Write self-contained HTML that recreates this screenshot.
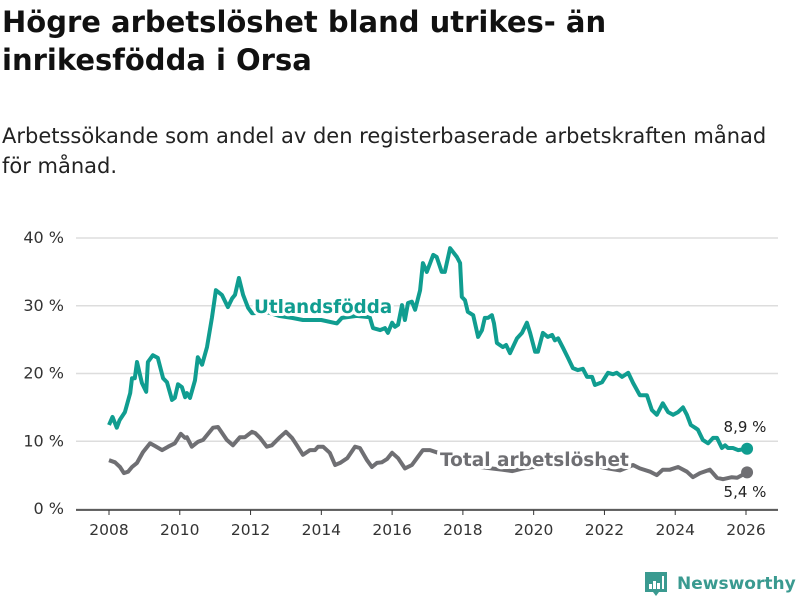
<!DOCTYPE html>
<html><head><meta charset="utf-8">
<style>
body{margin:0;background:#fff;width:800px;height:600px;overflow:hidden;font-family:"DejaVu Sans","Liberation Sans",sans-serif;}
#title{position:absolute;left:2px;top:3px;font-size:29px;font-weight:bold;line-height:38px;color:#111;margin:0;}
#sub{position:absolute;left:2px;top:121px;font-size:21px;line-height:30px;color:#222;}
svg{position:absolute;left:0;top:0;}
</style></head><body>
<h1 id="title">Högre arbetslöshet bland utrikes- än<br>inrikesfödda i Orsa</h1>
<div id="sub">Arbetssökande som andel av den registerbaserade arbetskraften månad<br>för månad.</div>
<svg id="chart" width="800" height="600"></svg>
<script>
const yTicks=[0,10,20,30,40];
const xTicks=[2008,2010,2012,2014,2016,2018,2020,2022,2024,2026];
const utlYears=[2008.0,2008.1,2008.22,2008.3,2008.45,2008.6,2008.65,2008.73,2008.79,2008.93,2009.05,2009.1,2009.24,2009.38,2009.53,2009.64,2009.78,2009.86,2009.95,2010.06,2010.15,2010.2,2010.29,2010.43,2010.51,2010.63,2010.77,2010.91,2011.02,2011.19,2011.36,2011.48,2011.56,2011.67,2011.79,2011.93,2012.04,2012.5,2012.8,2013.17,2013.48,2014.0,2014.44,2014.58,2015.0,2015.37,2015.46,2015.66,2015.8,2015.88,2016.0,2016.08,2016.17,2016.28,2016.36,2016.45,2016.56,2016.65,2016.79,2016.87,2016.98,2017.16,2017.26,2017.4,2017.49,2017.64,2017.83,2017.92,2017.97,2018.06,2018.14,2018.29,2018.43,2018.54,2018.62,2018.71,2018.82,2018.88,2018.96,2019.13,2019.22,2019.33,2019.53,2019.67,2019.81,2019.9,2020.04,2020.12,2020.26,2020.4,2020.52,2020.6,2020.69,2020.83,2020.97,2021.11,2021.25,2021.39,2021.51,2021.65,2021.73,2021.93,2022.1,2022.24,2022.35,2022.5,2022.67,2022.81,2023.0,2023.2,2023.34,2023.48,2023.65,2023.8,2023.94,2024.08,2024.22,2024.33,2024.44,2024.56,2024.64,2024.78,2024.93,2025.07,2025.18,2025.32,2025.41,2025.49,2025.63,2025.78,2026.03];
const utlValues=[12.4,13.6,12,13.1,14.3,17.1,19.3,19.3,21.7,18.6,17.3,21.7,22.7,22.3,19.3,18.7,16.1,16.4,18.4,18,16.5,17.1,16.4,19,22.4,21.3,23.9,28.3,32.3,31.6,29.8,31.1,31.6,34.1,31.6,29.7,28.9,29,28.5,28.2,27.9,27.9,27.4,28.2,28.5,28.3,26.7,26.4,26.7,26,27.5,26.9,27.2,30.1,27.9,30.4,30.6,29.4,32.3,36.3,35,37.5,37.2,35,35,38.5,37.2,36.3,31.3,30.8,29.1,28.6,25.4,26.4,28.2,28.2,28.6,27.4,24.5,23.9,24.2,23,25.2,26,27.5,26,23.2,23.2,26,25.4,25.7,24.9,25.2,23.8,22.3,20.8,20.5,20.7,19.5,19.5,18.3,18.7,20.1,19.9,20.1,19.5,20.1,18.6,16.8,16.8,14.6,13.9,15.6,14.3,13.9,14.3,15,13.9,12.4,12,11.7,10.2,9.7,10.5,10.5,9,9.4,9,9,8.7,8.9];
const totYears=[2008.0,2008.17,2008.31,2008.42,2008.54,2008.65,2008.79,2008.96,2009.16,2009.3,2009.5,2009.67,2009.86,2010.03,2010.15,2010.2,2010.34,2010.51,2010.66,2010.94,2011.08,2011.33,2011.5,2011.7,2011.84,2012.04,2012.13,2012.27,2012.46,2012.6,2012.83,2013.0,2013.17,2013.31,2013.48,2013.68,2013.82,2013.91,2014.05,2014.24,2014.39,2014.53,2014.73,2014.95,2015.09,2015.29,2015.43,2015.57,2015.71,2015.86,2016.0,2016.17,2016.36,2016.56,2016.73,2016.87,2017.07,2017.3,2017.6,2017.9,2018.2,2018.5,2018.8,2019.1,2019.4,2019.7,2020.0,2020.3,2020.6,2020.9,2021.2,2021.5,2021.8,2022.1,2022.44,2022.81,2023.0,2023.29,2023.48,2023.65,2023.85,2024.08,2024.33,2024.5,2024.7,2024.98,2025.18,2025.35,2025.6,2025.75,2026.03];
const totValues=[7.2,6.9,6.2,5.3,5.5,6.2,6.8,8.4,9.7,9.3,8.7,9.2,9.7,11.1,10.5,10.6,9.2,9.9,10.2,12,12.1,10.2,9.4,10.6,10.6,11.4,11.2,10.5,9.2,9.4,10.6,11.4,10.5,9.4,8,8.7,8.7,9.2,9.2,8.3,6.5,6.8,7.5,9.2,9,7.2,6.2,6.8,6.9,7.4,8.3,7.5,6,6.5,7.7,8.7,8.7,8.3,7.5,7,6.5,6.2,6,5.8,5.6,6,6.2,7.5,8,7.5,7.2,6.8,6.3,6,5.7,6.5,6,5.5,5,5.8,5.8,6.2,5.5,4.7,5.3,5.8,4.6,4.4,4.7,4.6,5.4];

const NS='http://www.w3.org/2000/svg';
const svg=document.getElementById('chart');
const X=y=>109+(y-2008)*(746-109)/18;
const Y=v=>509-v*(509-238)/40;
function mk(t,a,p){const e=document.createElementNS(NS,t);for(const k in a)e.setAttribute(k,a[k]);(p||svg).appendChild(e);return e;}
const TEAL='#109d90',GRAY='#6f6f73';
yTicks.forEach(v=>{
  const l=mk('line',{x1:76,x2:778,y1:Y(v),y2:Y(v),stroke:'#dddddd','stroke-width':1.5});
  
  
  const t=mk('text',{x:64,y:Y(v)+5,'text-anchor':'end','font-size':16,fill:'#333'});
  t.textContent=v+' %';
  
  
});
const ax=mk('line',{x1:76,x2:778,y1:510,y2:510,stroke:'#333','stroke-width':1.5});


xTicks.forEach(y=>{
  const tk=mk('line',{x1:X(y),x2:X(y),y1:510,y2:515,stroke:'#333','stroke-width':1});
  
  
  const t=mk('text',{x:X(y),y:535,'text-anchor':'middle','font-size':15.5,fill:'#333'});
  t.textContent=y;
  
  
});
function series(ys,vs,col,name){
  const d=ys.map((y,i)=>(i?'L':'M')+X(y).toFixed(1)+','+Y(vs[i]).toFixed(1)).join('');
  const p=mk('path',{d:d,fill:'none',stroke:col,'stroke-width':4,'stroke-linejoin':'round'});
  
  
  const n=ys.length-1;
  const c=mk('circle',{cx:X(ys[n]),cy:Y(vs[n]),r:6,fill:col});
  
  
}
series(totYears,totValues,GRAY,'total');
series(utlYears,utlValues,TEAL,'utlandsfodda');
function label(txt,x,y,col,size,bold,name,anchor){
  const t=mk('text',{x:x,y:y,'font-size':size,'font-weight':bold?'bold':'normal',fill:col,stroke:'#fff','stroke-width':bold?6:4,'paint-order':'stroke','stroke-linejoin':'round','text-anchor':anchor||'start'});
  t.textContent=txt;
  
  
}
label('Utlandsfödda',254,313,TEAL,18.3,true,'utlandsfodda-label');
label('Total arbetslöshet',440,466,GRAY,18.5,true,'total-label');
const nu=utlValues.length-1, nt=totValues.length-1;
label(utlValues[nu].toFixed(1).replace('.',',')+' %',745,432,'#222',15,false,'utlandsfodda-end-value','middle');
label(totValues[nt].toFixed(1).replace('.',',')+' %',745,497,'#222',15,false,'total-end-value','middle');
const g=mk('g',{});


mk('path',{d:'M645,572 h22 v20 h-8 l-3,4 l-3,-4 h-8 z',fill:'#3a9a90'},g);
[[649,584,3,5],[653,581,3,8],[657,583,3,6],[662,576,2,13]].forEach(r=>mk('rect',{x:r[0],y:r[1],width:r[2],height:r[3],fill:'#fff'},g));
const lt=mk('text',{x:677,y:589,'font-size':17,'font-weight':'bold',fill:'#3a9a90'},g);
lt.textContent='Newsworthy';
</script>
</body></html>
